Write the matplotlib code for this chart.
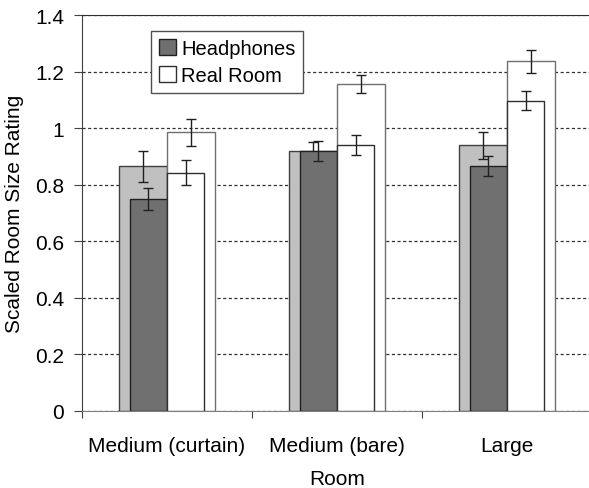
import numpy as np
import matplotlib.pyplot as plt

plt.rcParams['font.family'] = ['Liberation Sans', 'DejaVu Sans']

rooms = ['Medium (curtain)', 'Medium (bare)', 'Large']

# wider bars drawn behind
back_headphones = [0.865, 0.920, 0.940]
back_headphones_err = [0.054, 0.030, 0.048]
back_real = [0.985, 1.156, 1.236]
back_real_err = [0.047, 0.032, 0.041]

# narrower bars drawn in front
front_headphones = [0.749, 0.920, 0.866]
front_headphones_err = [0.038, 0.035, 0.035]
front_real = [0.842, 0.940, 1.097]
front_real_err = [0.044, 0.034, 0.034]

x = np.arange(len(rooms)) + 0.5

fig = plt.figure(figsize=(5.89, 4.89), dpi=100)
ax = fig.add_axes([82 / 589, 77 / 489, 510 / 589, 396 / 489])

ax.yaxis.grid(True, color='#303030', linestyle=(0, (2.5, 2)), linewidth=0.9, zorder=0)
ax.set_axisbelow(True)

bw = 0.285
fw = 0.22
err_kw = dict(fmt='none', ecolor='#202020', elinewidth=1, capsize=3.5, capthick=1)

ax.bar(x - bw / 2, back_headphones, bw, color='#c0c0c0', edgecolor='#404040', linewidth=1, zorder=2)
ax.bar(x + bw / 2, back_real, bw, color='white', edgecolor='#707070', linewidth=1, zorder=2)
ax.errorbar(x - bw / 2, back_headphones, yerr=back_headphones_err, zorder=3, **err_kw)
ax.errorbar(x + bw / 2, back_real, yerr=back_real_err, zorder=3, **err_kw)

h1 = ax.bar(x - fw / 2, front_headphones, fw, color='#707070', edgecolor='#202020', linewidth=1, zorder=4,
            label='Headphones')
h2 = ax.bar(x + fw / 2, front_real, fw, color='white', edgecolor='#303030', linewidth=1, zorder=4,
            label='Real Room')
ax.errorbar(x - fw / 2, front_headphones, yerr=front_headphones_err, zorder=5, **err_kw)
ax.errorbar(x + fw / 2, front_real, yerr=front_real_err, zorder=5, **err_kw)

ax.set_xlim(0, 3)
ax.set_ylim(0, 1.4)
ax.set_yticks(np.arange(0, 1.41, 0.2))
ax.set_yticklabels(['0', '0.2', '0.4', '0.6', '0.8', '1', '1.2', '1.4'])
ax.set_xticks([0, 1, 2, 3])
ax.set_xticklabels([])
ax.set_xticks(x, minor=True)
ax.set_xticklabels(rooms, minor=True)
ax.tick_params(axis='x', which='major', direction='out', length=5, color='#404040')
ax.tick_params(axis='x', which='minor', length=0, pad=18, labelsize=15)
ax.tick_params(axis='y', direction='out', length=6, pad=7, labelsize=15, color='#404040')

ax.spines['right'].set_visible(False)
ax.spines['top'].set_color('#303030')
ax.spines['left'].set_color('#404040')
ax.spines['bottom'].set_color('#808080')

ax.set_xlabel('Room', fontsize=15)
ax.xaxis.set_label_coords(0.5, -0.146)
ax.set_ylabel('Scaled Room Size Rating', fontsize=15)
ax.yaxis.set_label_coords(-0.114, 0.5)

leg = ax.legend(handles=[h1, h2], loc='upper left', bbox_to_anchor=(0.135, 0.96), borderaxespad=0,
                fontsize=14.5, fancybox=False, framealpha=1, edgecolor='#505050',
                handlelength=0.85, handleheight=0.85, handletextpad=0.25, borderpad=0.4, labelspacing=0.4)
leg.get_frame().set_linewidth(1)

fig.savefig('out.png', dpi=100)
